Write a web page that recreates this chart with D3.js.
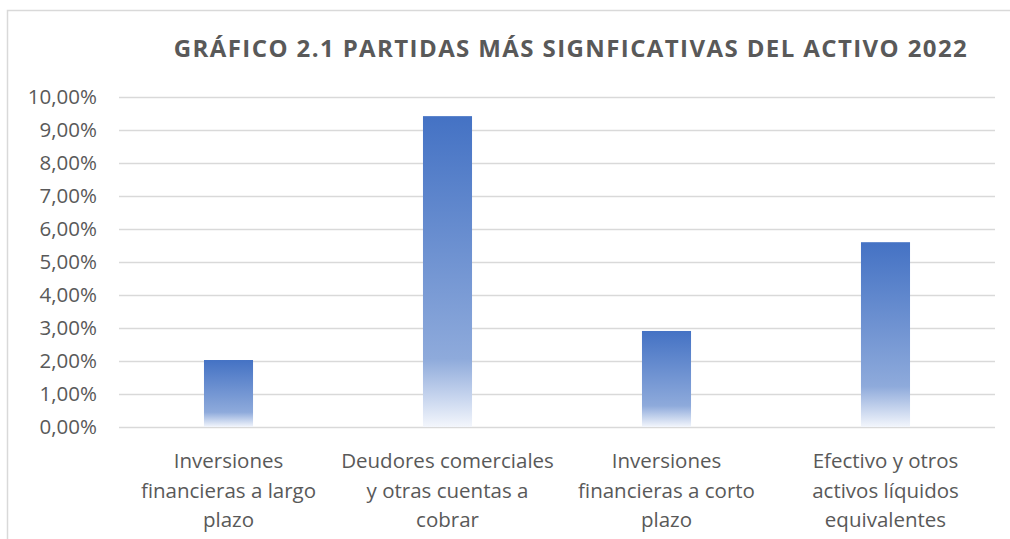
<!DOCTYPE html>
<html>
<head>
<meta charset="utf-8">
<script src="https://cdn.jsdelivr.net/npm/d3@7"></script>
<style>
  body { margin: 0; background: #fff; }
  svg { display: block; }
</style>
</head>
<body>
<div id="chart"></div>
<script>
// data
let categories = [
    ["Inversiones", "financieras a largo", "plazo"],
    ["Deudores comerciales", "y otras cuentas a", "cobrar"],
    ["Inversiones", "financieras a corto", "plazo"],
    ["Efectivo y otros", "activos líquidos", "equivalentes"]
];
let values = [2.03, 9.42, 2.91, 5.60];
let yTicks = [0, 1, 2, 3, 4, 5, 6, 7, 8, 9, 10];
let title = "GRÁFICO 2.1 PARTIDAS MÁS SIGNFICATIVAS DEL ACTIVO 2022";

let W = 1010, H = 539;
let plot = {left: 119, right: 995, top: 97, bottom: 427};

var svg = d3.select("#chart")
    .append("svg")
    .attr("width", W)
    .attr("height", H);

// chart frame (only top and left show in the crop)
svg.append("path")
    .attr("d", `M7.5,${H} L7.5,10.5 L${W},10.5`)
    .attr("fill", "none")
    .attr("stroke", "#d9d9d9")
    .attr("stroke-width", 1.5);

var defs = svg.append("defs");
var grad = defs.append("linearGradient")
    .attr("id", "barGrad")
    .attr("x1", 0).attr("y1", 0).attr("x2", 0).attr("y2", 1);
grad.append("stop").attr("offset", "0%").attr("stop-color", "#4472c4");
grad.append("stop").attr("offset", "78%").attr("stop-color", "#8eaadb");
grad.append("stop").attr("offset", "100%").attr("stop-color", "#f3f6fc");

var x = d3.scaleBand()
    .domain(d3.range(categories.length))
    .range([plot.left, plot.right])
    .paddingInner(0.776)
    .paddingOuter(0.388);

var y = d3.scaleLinear()
    .domain([0, 10])
    .range([plot.bottom, plot.top]);

// gridlines
svg.append("g")
    .selectAll("line")
    .data(yTicks)
    .enter()
    .append("line")
    .attr("x1", plot.left)
    .attr("x2", plot.right)
    .attr("y1", d => Math.round(y(d)) + 0.5)
    .attr("y2", d => Math.round(y(d)) + 0.5)
    .attr("stroke", "#d9d9d9")
    .attr("stroke-width", 1.5);

// y labels
svg.append("g")
    .selectAll("text")
    .data(yTicks)
    .enter()
    .append("text")
    .attr("x", 97)
    .attr("y", d => y(d))
    .attr("dy", "0.36em")
    .attr("text-anchor", "end")
    .style("font-family", "'Open Sans', sans-serif")
    .style("font-size", "20.5px")
    .style("fill", "#595959")
    .text(d => d.toFixed(2).replace(".", ",") + "%");

// bars
svg.append("g")
    .selectAll("rect")
    .data(values)
    .enter()
    .append("rect")
    .attr("x", (d, i) => x(i))
    .attr("width", x.bandwidth())
    .attr("y", d => y(d))
    .attr("height", d => y(0) - y(d))
    .attr("fill", "url(#barGrad)");

// category labels
var catG = svg.append("g")
    .selectAll("text")
    .data(categories)
    .enter()
    .append("text")
    .attr("text-anchor", "middle")
    .style("font-family", "'Open Sans', sans-serif")
    .style("font-size", "20.5px")
    .style("fill", "#595959");

catG.selectAll("tspan")
    .data((d, i) => d.map(s => ({s: s, i: i})))
    .enter()
    .append("tspan")
    .attr("x", d => x(d.i) + x.bandwidth() / 2)
    .attr("y", (d, j) => 468 + j * 29.5)
    .text(d => d.s);

// title
svg.append("text")
    .attr("x", 571)
    .attr("y", 57)
    .attr("text-anchor", "middle")
    .style("font-family", "'Open Sans', sans-serif")
    .style("font-weight", "bold")
    .style("font-size", "24px")
    .style("letter-spacing", "1.4px")
    .style("fill", "#595959")
    .text(title);
</script>
</body>
</html>
